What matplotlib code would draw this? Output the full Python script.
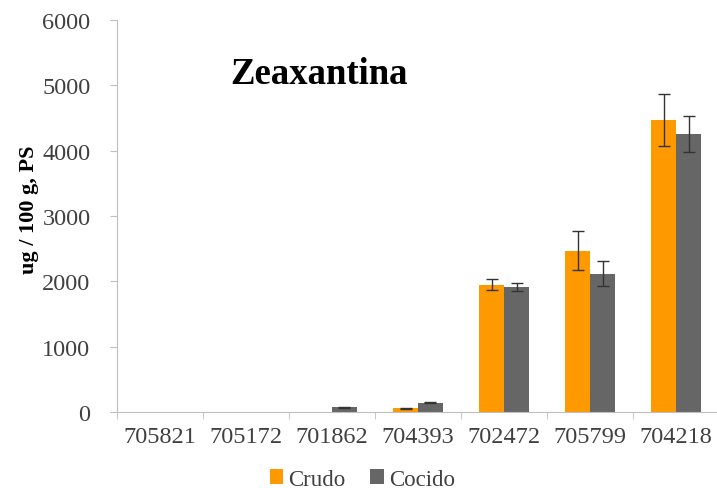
import numpy as np
import matplotlib.pyplot as plt

variedades = ["705821", "705172", "701862", "704393", "702472", "705799", "704218"]
crudo = np.array([0, 0, 0, 60, 1950, 2470, 4470])
crudo_err = np.array([0, 0, 0, 10, 85, 300, 395])
cocido = np.array([0, 0, 72, 148, 1915, 2118, 4257])
cocido_err = np.array([0, 0, 12, 12, 60, 190, 270])

plt.rcParams["font.family"] = ["Liberation Serif", "DejaVu Serif"]

fig = plt.figure(figsize=(7.17, 4.89), dpi=100)
ax = fig.add_axes([0.163, 0.155, 0.84, 0.802])

x = np.arange(len(variedades))
w = 0.29
ax.bar(x - w / 2, crudo, w, color="#FF9900", label="Crudo")
ax.bar(x + w / 2, cocido, w, color="#666666", label="Cocido")

# error bars only where there is a measured value
for pos, vals, errs in [(x - w / 2, crudo, crudo_err), (x + w / 2, cocido, cocido_err)]:
    m = vals > 0
    ax.errorbar(pos[m], vals[m], yerr=errs[m], fmt="none", ecolor="#333333",
                elinewidth=1, capsize=4.5, capthick=1)

ax.set_xlim(-0.5, 6.5)
ax.set_ylim(0, 6000)
ax.set_yticks(range(0, 6001, 1000))
ax.set_xticks(x)
ax.set_xticklabels(variedades)
ax.set_xticks(np.arange(-0.5, 6.5, 1), minor=True)
ax.tick_params(axis="x", which="major", length=0, pad=10)
ax.tick_params(axis="x", which="minor", length=5, color="#BFBFBF")
ax.tick_params(axis="y", length=5, color="#BFBFBF", pad=14)
ax.tick_params(labelsize=17.5, labelcolor="#404040")

for s in ["top", "right"]:
    ax.spines[s].set_visible(False)
for s in ["left", "bottom"]:
    ax.spines[s].set_color("#BFBFBF")

ax.set_ylabel("ug / 100 g, PS", fontsize=16, fontweight="bold")
ax.yaxis.set_label_coords(-0.13, 0.52)
ax.text(0.321, 0.847, "Zeaxantina", transform=fig.transFigure, fontsize=26.5,
        fontweight="bold", ha="left", va="center")

fig.legend(loc="lower center", bbox_to_anchor=(0.505, -0.05), ncol=2, frameon=False,
           fontsize=16.5, handlelength=0.6, handleheight=0.6, handletextpad=0.2,
           columnspacing=1.1, labelcolor="#404040", borderaxespad=0.6)

fig.savefig("out.png", dpi=100)
